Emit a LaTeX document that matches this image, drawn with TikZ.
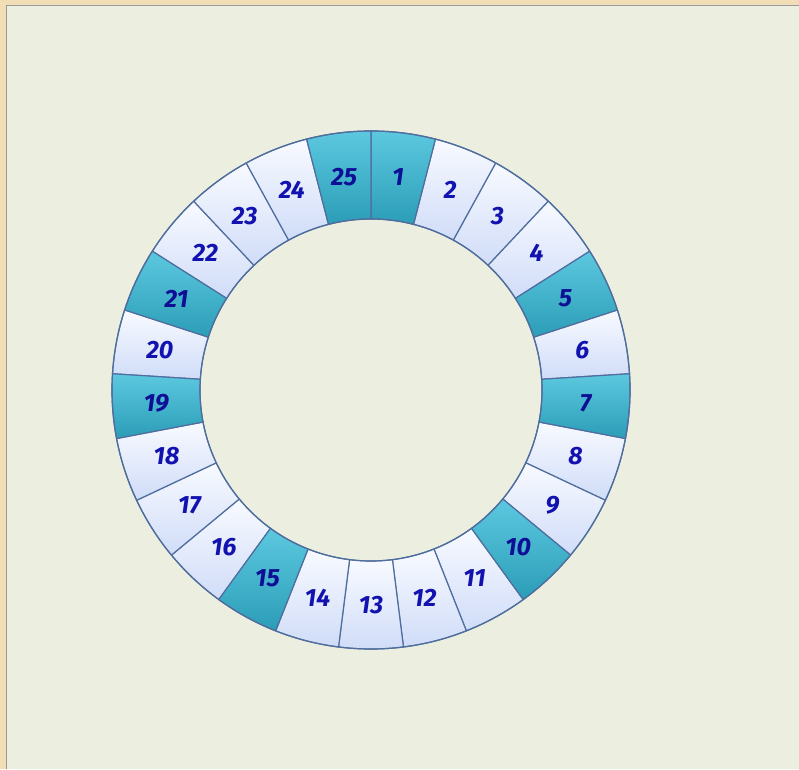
\documentclass[tikz,border=0pt]{standalone}
\usepackage{fontspec}
\setmainfont{Fira Sans}
\definecolor{parch}{HTML}{F1DEB6}
\definecolor{panel}{HTML}{ECEFDF}
\definecolor{frameline}{HTML}{9A9A9A}
\definecolor{edge}{HTML}{4F6E9E}
\definecolor{tealA}{HTML}{5CC8E0}
\definecolor{tealB}{HTML}{2C9DB7}
\definecolor{lightA}{HTML}{F8FAFF}
\definecolor{lightB}{HTML}{D0DCF8}
\definecolor{numblue}{HTML}{1212B0}
\tikzset{
  darkseg/.style={top color=tealA, bottom color=tealB, draw=edge, line width=1.2pt, line join=round},
  lightseg/.style={top color=lightA, bottom color=lightB, draw=edge, line width=1.2pt, line join=round},
  lightnum/.style={text=numblue, font=\fontsize{25}{25}\selectfont\bfseries\itshape, inner sep=0pt},
  darknum/.style={text=numblue!85!black, font=\fontsize{25}{25}\selectfont\bfseries\itshape, inner sep=0pt}
}
\newcommand\ringseg[2]{%
  \pgfmathsetmacro\sa{90-14.4*(#1-1)}%
  \pgfmathsetmacro\sb{90-14.4*#1}%
  \path[#2seg] ([shift={(\sa:259)}]C) arc[start angle=\sa, end angle=\sb, radius=259]
     -- ([shift={(\sb:171)}]C) arc[start angle=\sb, end angle=\sa, radius=171] -- cycle;
}
\newcommand\ringlabel[2]{%
  \pgfmathsetmacro\sm{90-14.4*(#1-0.5)}%
  \node[#2num] (n#1) at ([shift={(\sm:215)}]C) {#1};
}
\begin{document}
\begin{tikzpicture}[x=1pt,y=1pt]
\useasboundingbox (0,0) rectangle (799,769);
\fill[parch] (0,0) rectangle (799,769);
\fill[panel] (7,0) rectangle (799,763);
\draw[frameline, line width=1.5pt] (6.5,0) -- (6.5,763.5) -- (799,763.5);
\coordinate (C) at (371,379);
\foreach \k in {2,3,4,6,8,9,11,12,13,14,16,17,18,20,22,23,24} {\ringseg{\k}{light}}
\foreach \k in {1,5,7,10,15,19,21,25} {\ringseg{\k}{dark}}
\draw[edge, line width=1.2pt] (C) circle[radius=259];
\draw[edge, line width=1.2pt] (C) circle[radius=171];
\foreach \k in {2,3,4,6,8,9,11,12,13,14,16,17,18,20,22,23,24} {\ringlabel{\k}{light}}
\foreach \k in {1,5,7,10,15,19,21,25} {\ringlabel{\k}{dark}}
\end{tikzpicture}
\end{document}
